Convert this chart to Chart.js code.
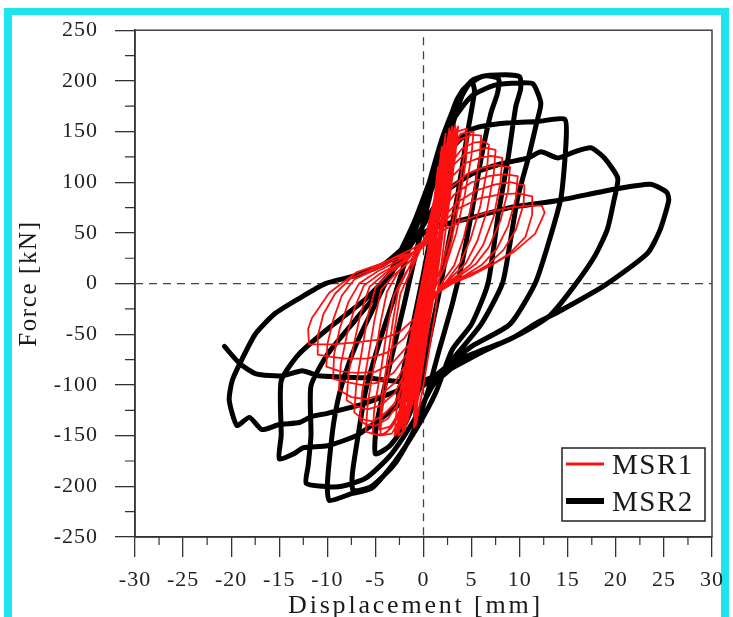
<!DOCTYPE html>
<html>
<head>
<meta charset="utf-8">
<script src="https://cdn.jsdelivr.net/npm/chart.js@4.4.0/dist/chart.umd.min.js"></script>
<style>
  html, body { margin: 0; padding: 0; background: #fff; overflow: hidden; width: 733px; height: 617px; }
  #frame { position: absolute; left: 4px; top: 8px; width: 709px; height: 700px; border-style: solid; border-color: #1ee4ec; border-width: 7px 8px 8px 8px; }
  #chart { position: absolute; left: 0; top: 0; }
</style>
</head>
<body>
<div id="frame"></div>
<canvas id="chart" width="733" height="617"></canvas>
<script>
const serif = '"Liberation Serif", "Times New Roman", serif';

const xTitle = 'Displacement [mm]';
const yTitle = 'Force [kN]';
const dispTicks = [-30, -25, -20, -15, -10, -5, 0, 5, 10, 15, 20, 25, 30];
const forceTicks = [-250, -200, -150, -100, -50, 0, 50, 100, 150, 200, 250];
const dispMinor = [-27.5, -22.5, -17.5, -12.5, -7.5, -2.5, 2.5, 7.5, 12.5, 17.5, 22.5, 27.5];
const forceMinor = [-225, -175, -125, -75, -25, 25, 75, 125, 175, 225];

// MSR1 hysteresis, [displacement mm, force kN]
const msr1Data = [
  [0,0],[0.6,45],[1.2,90],[1.0,70],[0.2,10],[-0.5,-40],[-1.0,-80],[-0.8,-60],[0,0],
  [0.8,55],[1.5,115],[1.3,95],[0.4,25],[-0.6,-50],[-1.3,-105],[-1.1,-85],[-0.2,-15],
  [0.9,60],[1.9,135],[1.7,115],[0.6,35],[-0.5,-45],[-1.7,-125],[-1.5,-105],[-0.3,-20],
  [1.0,65],[2.3,148],[2.1,125],[0.9,45],[-0.3,-35],[-2.0,-138],[-1.9,-115],[-0.5,-25],
  [1.2,70],[2.7,153],[2.5,130],[1.0,45],[-0.5,-40],[-2.4,-143],[-2.2,-120],[-0.8,-30],
  [1.0,60],[2.1,120],[3.0,155],[2.7,130],[1.3,50],[0.0,-10],[-1.2,-80],[-2.8,-147],[-2.5,-125],[-1.0,-40],
  [0.5,30],[1.5,70],[2.5,120],[3.2,152],[3.0,125],[1.8,50],[0.8,-20],[-0.5,-90],[-1.8,-140],[-1.6,-115],[-0.2,-40],
  [1.8,100],[2.8,150],[2.6,120],[1.2,40],[-0.2,-50],[-1.6,-135],[-1.4,-110],[0.2,-20],
  [1.6,90],[3.3,156],[3.1,130],[1.6,50],[0.2,-40],[-1.2,-120],[-2.2,-148],[-2.0,-120],[-0.6,-40],[0.8,40],
  [2.2,110],[3.5,150],[3.3,125],[2.0,55],[0.5,-30],[-0.8,-100],[-2.0,-145],[-2.6,-150],[-2.3,-120],[-1.0,-50],[0.4,20],
  [1.4,80],[2.6,145],[2.4,115],[1.5,60],[0.6,0],[-0.4,-70],[-1.0,-130],[-0.8,-100],[0.2,-30],
  [1.7,75],[2.9,140],[3.6,155],[3.4,135],[2.2,70],[1.0,0],[-0.4,-80],[-1.5,-130],[-3.0,-150],[-2.8,-125],[-1.5,-60],[0.0,10],
  [1.1,60],[2.0,105],[2.9,135],[2.7,110],[1.7,55],[0.7,5],[-0.3,-55],[-1.3,-110],[-2.5,-140],[-2.3,-112],[-1.2,-55],[0.1,15],
  [2.2,60],[3.0,115],[3.4,150],[3.2,120],[2.0,30],[1.2,-30],[0.0,-100],[-0.8,-140],[-0.6,-110],[0.6,-40],[1.6,20],
  [2.4,80],[3.1,140],[2.9,110],[1.8,40],[0.9,-20],[-0.2,-90],[-1.0,-142],[-0.8,-115],[0.3,-50],[1.3,10],
  [2.0,70],[2.6,130],[2.4,100],[1.4,30],[0.4,-40],[-0.7,-120],[-0.5,-95],[0.6,-25],[1.8,45],
  [0.5,40],[1.6,100],[2.6,135],[3.5,150],[4.5,153],
  [4.3,130],[3.6,90],[2.8,50],[2.0,20],[1.0,-5],[-0.2,-40],
  [-1.2,-90],[-2.2,-130],[-3.3,-148],[-4.5,-150],
  [-4.3,-125],[-3.6,-85],[-3.0,-45],[-2.4,-10],[-1.2,15],
  [0.2,45],[1.4,95],[2.5,128],[3.6,142],[4.6,145],
  [4.4,120],[3.7,80],[2.9,42],[2.0,12],[0.8,-12],[-0.4,-48],
  [-1.4,-95],[-2.4,-128],[-3.5,-141],[-4.6,-144],
  [-4.4,-118],[-3.8,-78],[-3.2,-38],[-2.6,-5],[-1.4,18],
  [0.4,50],[1.5,98],[2.7,132],[3.9,148],[5.2,150],
  [5.0,127],[4.3,88],[3.4,50],[2.4,20],[1.2,-4],[0.0,-38],
  [-1.0,-85],[-2.2,-125],[-3.4,-143],[-4.4,-150],[-5.3,-148],
  [-5.1,-122],[-4.4,-84],[-3.8,-46],[-3.1,-12],[-1.9,10],[-0.6,28],
  [0.2,45],[1.4,92],[2.5,125],[3.8,142],[5.0,147],[6.0,146],
  [5.8,120],[5.1,82],[4.2,46],[3.2,18],[2.0,2],[0.8,-20],[-0.5,-52],
  [-1.5,-95],[-2.6,-128],[-3.9,-148],[-5.0,-149],[-6.0,-146],
  [-5.8,-118],[-5.1,-78],[-4.5,-40],[-3.8,-8],[-2.6,12],[-1.0,26],
  [0.4,48],[1.6,88],[2.8,118],[4.0,133],[5.2,139],[6.3,140],[6.8,137],
  [6.6,112],[5.9,76],[4.9,44],[3.8,20],[2.6,5],[1.3,-10],[0.0,-38],
  [-1.2,-80],[-2.4,-115],[-3.7,-133],[-4.9,-140],[-6.0,-139],[-6.6,-135],
  [-6.4,-108],[-5.7,-70],[-5.1,-36],[-4.4,-6],[-3.0,9],[-1.4,22],
  [0.6,50],[1.8,90],[3.0,116],[4.3,128],[5.4,131],[6.5,134],[7.5,132],
  [7.3,108],[6.6,72],[5.6,42],[4.4,20],[3.0,7],[1.6,-5],[0.3,-25],[-0.8,-58],
  [-1.8,-92],[-3.0,-118],[-4.2,-130],[-5.3,-136],[-6.3,-134],[-7.2,-127],
  [-7.0,-100],[-6.4,-66],[-5.8,-32],[-5.0,-4],[-3.6,10],[-1.8,22],
  [0.3,46],[1.6,80],[3.0,106],[4.4,119],[5.8,124],[7.0,126],[8.2,124],
  [8.0,100],[7.3,66],[6.2,38],[4.9,19],[3.4,7],[1.9,-3],[0.6,-20],[-0.6,-50],
  [-1.7,-84],[-3.0,-108],[-4.4,-120],[-5.8,-124],[-7.0,-121],[-8.0,-115],
  [-7.8,-90],[-7.2,-58],[-6.5,-28],[-5.6,-3],[-4.0,10],[-2.2,21],
  [0.2,42],[1.5,72],[3.0,96],[4.5,108],[6.0,114],[7.5,117],[9.0,115],
  [8.8,92],[8.0,62],[6.8,36],[5.4,19],[3.8,8],[2.2,-1],[0.8,-18],[-0.5,-45],
  [-1.6,-76],[-3.0,-98],[-4.5,-110],[-6.0,-114],[-7.5,-112],[-8.8,-105],
  [-8.6,-80],[-8.0,-52],[-7.2,-25],[-6.2,-2],[-4.5,10],[-2.5,20],
  [0.0,38],[1.5,66],[3.2,88],[5.0,100],[6.8,106],[8.4,108],[9.8,106],
  [9.6,84],[8.8,57],[7.6,34],[6.0,18],[4.3,8],[2.6,0],[1.0,-14],[-0.4,-40],
  [-1.6,-68],[-3.1,-88],[-4.8,-98],[-6.5,-100],[-8.1,-97],[-9.4,-94],
  [-9.3,-70],[-8.7,-44],[-7.8,-18],[-6.7,0],[-4.8,12],[-2.7,22],
  [-0.2,36],[1.5,60],[3.5,80],[5.5,92],[7.5,98],[9.0,100],[10.5,97],
  [10.4,78],[9.6,53],[8.3,33],[6.6,18],[4.8,8],[3.0,1],[1.2,-10],[-0.3,-35],
  [-1.5,-60],[-3.2,-78],[-5.0,-87],[-7.0,-88],[-8.8,-86],[-10.1,-82],
  [-10.0,-60],[-9.4,-36],[-8.5,-12],[-7.2,4],[-5.0,14],[-2.8,24],
  [-0.3,34],[1.5,56],[3.6,74],[5.8,84],[8.0,88],[9.8,89],[11.3,86],
  [11.3,68],[10.6,46],[9.0,30],[7.0,18],[5.0,8],[3.0,0],[1.0,-12],[-0.6,-34],
  [-2.0,-54],[-3.8,-68],[-5.8,-74],[-8.0,-74],[-9.8,-72],[-11.0,-70],
  [-11.0,-52],[-10.4,-30],[-9.2,-10],[-7.6,5],[-5.2,15],[-2.9,26],
  [-0.5,32],[1.5,50],[4.0,62],[6.5,70],[9.0,75],[11.0,77],[12.3,77],
  [12.6,70],[11.6,49],[9.5,32],[7.4,20],[4.5,8],[2.3,0],[0.5,-15],[-1.0,-35],
  [-2.5,-48],[-4.5,-55],[-7.0,-58],[-9.5,-60],[-11.9,-60],
  [-12.0,-45],[-11.6,-34],[-9.8,-9],[-7.0,11],[-4.3,20],[-1.2,34],[0.5,45]
];

// MSR2 hysteresis, [displacement mm, force kN]
const msr2Data = [
  [0,0],[1,50],[2,100],[2.7,125],
  [2.2,100],[1,40],[0,-10],[-1,-60],[-2,-100],[-2.7,-118],
  [-2.3,-95],[-1.2,-45],[0,10],[1,60],[2,110],[3,155],[4,185],[5,200],
  [5.3,190],[4.6,150],[3.6,90],[2.6,40],[1.6,-10],[0.5,-60],[-0.5,-105],[-2,-140],[-3.5,-160],[-5,-168],
  [-4.9,-140],[-4,-100],[-3,-60],[-2,-20],[-0.8,30],[0.5,80],[2,140],[3.5,182],[5,200],[6.5,205],[7.8,202],
  [7.7,188],[7,168],[6,124],[5,70],[4,20],[3,-20],[1.5,-70],[0.5,-105],[-1,-145],[-3,-178],[-5.4,-200],[-7.3,-204],
  [-7.4,-188],[-6.8,-150],[-6,-105],[-4.5,-55],[-3,-12],[-1.5,35],[0,80],[2,145],[4,190],[6,204],[8.5,206],[10,204],
  [10.1,192],[9.6,175],[8.8,124],[7.8,70],[6.7,0],[5,-40],[3,-65],[1.3,-107],[-0.6,-141],[-3,-176],[-5.4,-202],[-7.4,-207],[-9.8,-214],
  [-10,-200],[-9.8,-175],[-9.3,-135],[-8.5,-100],[-7,-60],[-5,-20],[-3,20],[-1,60],[1,110],[3,160],[5,185],[7.5,196],[10.1,198],[11.4,197],
  [12.2,178],[11.8,160],[10.9,124],[9.8,85],[9,40],[8.2,0],[6,-40],[3,-75],[1,-100],[-1,-135],[-3.5,-170],[-6,-192],[-8.5,-200],[-10.5,-200],[-12.2,-197],
  [-12,-180],[-11.7,-150],[-11.7,-101],[-10,-70],[-7,-35],[-4,0],[-1.5,40],[0.5,85],[2.5,128],[5,152],[8,158],[11.9,160],[14.7,162],
  [14.8,136],[14.3,85],[13,40],[11.6,0],[9,-40],[5,-62],[2,-85],[-1,-108],[-4,-130],[-7,-150],[-10,-160],[-12.5,-162],[-13.5,-168],[-15,-173],
  [-14.8,-150],[-14.8,-96],[-13,-70],[-10,-45],[-6,-15],[-3,15],[-0.5,50],[2,88],[5,108],[8,118],[10.9,124],[12.2,130],[14,124],[15.7,130],[17.4,134],[18.8,124],[20.2,104],
  [19.8,82],[19.1,53],[17.8,27],[15.7,-2],[13.2,-31],[10,-50],[6,-68],[2,-88],[-2,-103],[-6,-118],[-10,-128],[-11.6,-131],[-12.9,-137],[-15,-139],[-16.8,-144],[-18.1,-132],[-19.4,-140],
  [-20.2,-115],[-19.9,-96],[-19.1,-79],[-17.5,-50],[-15.5,-30],[-13,-15],[-10.2,0],[-7,8],[-4,20],[-1.5,40],[1,55],[5,65],[9,75],[14,82],[19.8,93],[23.6,98],[25.3,90],[25.5,82],
  [24.6,53],[23.3,30],[18.8,-2],[14,-28],[11.9,-38],[9,-55],[4.2,-73],[1.8,-92],[-2,-97],[-6,-93],[-10.9,-91],[-12.6,-86],[-14.7,-91],[-17.4,-89],[-19.1,-79],[-20.7,-62]
];

const toPoints = arr => arr.map(([x, y]) => ({ x, y }));

const framePlugin = {
  id: 'frame',
  beforeDraw(chart) {
    chart.ctx.letterSpacing = '1px';
  },
  afterDraw(chart) {
    const { ctx, chartArea: a, scales: { x, y } } = chart;
    ctx.save();
    ctx.strokeStyle = '#333';
    ctx.lineWidth = 1.4;
    ctx.strokeRect(a.left, a.top, a.right - a.left, a.bottom - a.top);

    // minor ticks
    ctx.lineWidth = 1.2;
    ctx.beginPath();
    dispMinor.forEach(v => {
      const px = x.getPixelForValue(v);
      ctx.moveTo(px, a.bottom);
      ctx.lineTo(px, a.bottom + 8);
    });
    forceMinor.forEach(v => {
      const py = y.getPixelForValue(v);
      ctx.moveTo(a.left - 10, py);
      ctx.lineTo(a.left, py);
    });
    ctx.stroke();

    // axis titles
    ctx.fillStyle = '#1a1a1a';
    ctx.font = '26px ' + serif;
    ctx.letterSpacing = '2.8px';
    ctx.textAlign = 'center';
    ctx.textBaseline = 'alphabetic';
    ctx.fillText(xTitle, (a.left + a.right) / 2 - 8, 613);

    ctx.font = '25px ' + serif;
    ctx.letterSpacing = '1.6px';
    ctx.save();
    ctx.translate(36, (a.top + a.bottom) / 2);
    ctx.rotate(-Math.PI / 2);
    ctx.fillText(yTitle, 0, 0);
    ctx.restore();

    // legend
    const bx = a.right - 150, by = a.bottom - 89, bw = 143, bh = 73;
    ctx.fillStyle = '#fff';
    ctx.fillRect(bx, by, bw, bh);
    ctx.strokeStyle = '#222';
    ctx.lineWidth = 1.5;
    ctx.strokeRect(bx, by, bw, bh);
    ctx.font = '29px ' + serif;
    ctx.letterSpacing = '1.5px';
    ctx.textAlign = 'left';
    ctx.textBaseline = 'middle';
    chart.data.datasets.filter(ds => !ds.label.startsWith('_')).forEach((ds, i) => {
      const ly = by + 16 + i * 37;
      ctx.strokeStyle = ds.borderColor;
      ctx.lineWidth = ds.legendWidth;
      ctx.beginPath();
      ctx.moveTo(bx + 4, ly);
      ctx.lineTo(bx + 42, ly);
      ctx.stroke();
      ctx.fillStyle = '#1a1a1a';
      ctx.fillText(ds.label, bx + 50, ly + 2);
    });
    ctx.restore();
  }
};

const tickFont = { family: serif, size: 22 };

new Chart(document.getElementById('chart'), {
  type: 'scatter',
  data: {
    datasets: [
      { label: 'MSR1', data: toPoints(msr1Data), borderColor: '#ff1010', borderWidth: 1.8, legendWidth: 3,
        showLine: true, pointRadius: 0, tension: 0, borderJoinStyle: 'round', order: 1 },
      { label: 'MSR2', data: toPoints(msr2Data), borderColor: '#000', borderWidth: 5, legendWidth: 6,
        showLine: true, pointRadius: 0, tension: 0.2, borderJoinStyle: 'round', borderCapStyle: 'round', order: 2 },
      { label: '_zeroV', data: [{ x: 0, y: 243 }, { x: 0, y: -250 }], borderColor: '#444', borderWidth: 1.3,
        borderDash: [8, 6], showLine: true, pointRadius: 0, order: 3 },
      { label: '_zeroH', data: [{ x: -30, y: 0 }, { x: 30, y: 0 }], borderColor: '#444', borderWidth: 1.3,
        borderDash: [8, 6], showLine: true, pointRadius: 0, order: 3 }
    ]
  },
  options: {
    responsive: false,
    animation: false,
    devicePixelRatio: 1,
    layout: { padding: { left: 0, right: 18, top: 20, bottom: 0 } },
    plugins: { legend: { display: false }, tooltip: { enabled: false } },
    scales: {
      x: {
        type: 'linear', min: -30, max: 30,
        afterBuildTicks: s => { s.ticks = dispTicks.map(v => ({ value: v })); },
        afterFit: s => { s.height = 80; },
        grid: { drawOnChartArea: false, drawTicks: true, tickLength: 20, color: '#333', lineWidth: 1.3 },
        border: { display: true, color: '#333', width: 1.5 },
        ticks: { color: '#222', font: tickFont, padding: 10, maxRotation: 0, autoSkip: false, callback: v => String(v) }
      },
      y: {
        type: 'linear', min: -250, max: 250,
        afterBuildTicks: s => { s.ticks = forceTicks.map(v => ({ value: v })); },
        afterFit: s => { s.width = 135; },
        grid: { drawOnChartArea: false, drawTicks: true, tickLength: 20, color: '#333', lineWidth: 1.3 },
        border: { display: true, color: '#333', width: 1.5 },
        ticks: { color: '#222', font: tickFont, padding: 17, autoSkip: false, callback: v => String(v) }
      }
    }
  },
  plugins: [framePlugin]
});
</script>
</body>
</html>
